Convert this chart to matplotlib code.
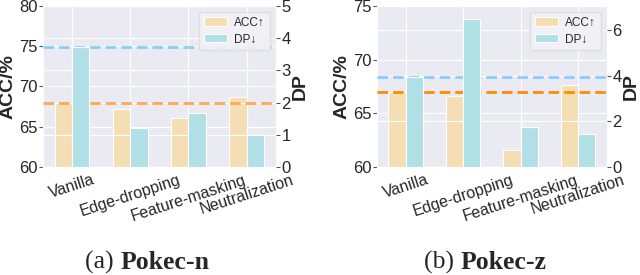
import numpy as np
import matplotlib
matplotlib.use('Agg')
import matplotlib.pyplot as plt
import seaborn as sns

methods = ['Vanilla', 'Edge-dropping', 'Feature-masking', 'Neutralization']

# Pokec-n
acc_n = [68.0, 67.2, 66.05, 68.7]
dp_n = [3.74, 1.2, 1.67, 0.99]
# Pokec-z
acc_z = [66.95, 66.65, 61.6, 67.65]
dp_z = [3.95, 6.48, 1.75, 1.46]

captions = [('(a) ', 'Pokec-n'), ('(b) ', 'Pokec-z')]

sns.set_style('darkgrid')
plt.rcParams['font.family'] = ['Liberation Sans', 'DejaVu Sans']

acc_color = '#F5DEB3'
dp_color = '#B0E0E6'


def draw_panel(fig, rect, acc, dp, acc_lim, dp_lim, dp_ticks, orange, cap, cap_x):
    ax = fig.add_axes(rect)
    x = np.arange(len(methods))
    w = 0.3
    ax.bar(x - w / 2, acc, w, color=acc_color, edgecolor='white', linewidth=0.8, label='ACC↑')
    ax.set_ylim(*acc_lim)
    ax.set_xlim(-0.5, 3.5)
    ax.set_xticks(x)
    ax.set_xticklabels(methods, rotation=18, ha='center', fontsize=11.5)
    ax.set_ylabel('ACC/%', fontsize=14, fontweight='bold', labelpad=2)
    ax.tick_params(axis='y', labelsize=12, length=3, color='#555555', pad=1)
    ax.tick_params(axis='x', length=0, pad=4)

    ax2 = ax.twinx()
    ax2.set_ylim(*dp_lim)
    ax2.bar(x + w / 2, dp, w, color=dp_color, edgecolor='white', linewidth=0.8,
            label='DP↓', zorder=1)
    # vanilla reference lines, drawn between the twin grid and the DP bars
    acc_ref_dp = (acc[0] - acc_lim[0]) / (acc_lim[1] - acc_lim[0]) * dp_lim[1]
    ax2.axhline(acc_ref_dp, color=orange, linestyle='--', linewidth=2,
                dashes=(3.8, 1.8), zorder=0.8)
    ax2.axhline(dp[0], color='#87CEFA', linestyle='--', linewidth=2,
                dashes=(3.8, 1.8), zorder=0.8)
    ax2.set_yticks(dp_ticks)
    ax2.set_ylabel('DP', fontsize=14, fontweight='bold', labelpad=1)
    ax2.tick_params(axis='y', labelsize=12, length=3, color='#555555', pad=1)
    for s in ax2.spines.values():
        s.set_visible(False)

    h1, l1 = ax.get_legend_handles_labels()
    h2, l2 = ax2.get_legend_handles_labels()
    ax2.legend(h1 + h2, l1 + l2, loc='upper right', fontsize=8.5, frameon=True,
               facecolor='#F2F2F6', edgecolor='#DDDDDD', framealpha=0.9,
               handlelength=2.0, handletextpad=0.6, borderpad=0.4,
               labelspacing=0.4, borderaxespad=0.5)

    fig.text(cap_x, 0.045, cap[0], ha='right', va='center', fontsize=18.5,
             family='Liberation Serif')
    fig.text(cap_x, 0.045, cap[1], ha='left', va='center', fontsize=18.5,
             family='Liberation Serif', fontweight='bold')
    return ax, ax2


fig = plt.figure(figsize=(6.4, 2.75), dpi=100)
draw_panel(fig, [0.067, 0.393, 0.364, 0.585], acc_n, dp_n, (60, 80), (0, 5),
           [0, 1, 2, 3, 4, 5], '#FFA850', captions[0], 0.188)
draw_panel(fig, [0.589, 0.393, 0.359, 0.585], acc_z, dp_z, (60, 75), (0, 7.05),
           [0, 2, 4, 6], '#FF8C00', captions[1], 0.720)

fig.savefig('out.png', dpi=100)
